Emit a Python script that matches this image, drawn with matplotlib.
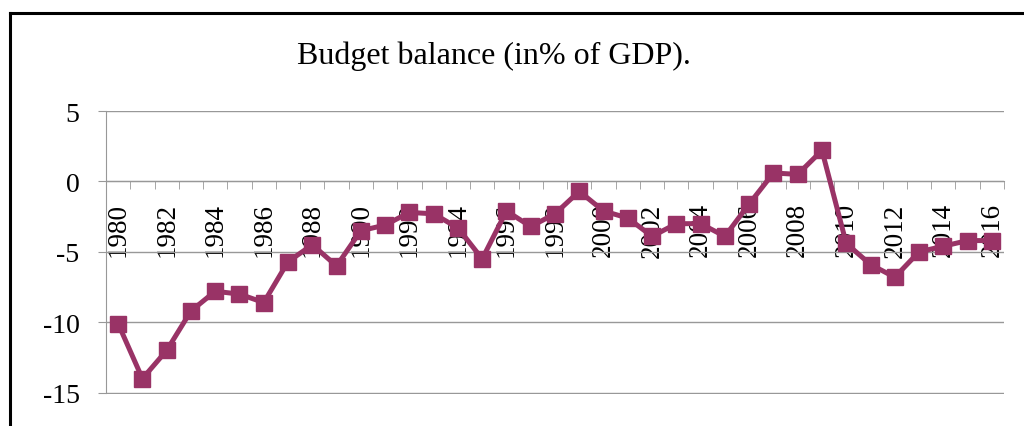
import numpy as np
import matplotlib.pyplot as plt
from matplotlib.lines import Line2D

# budget balance in % of GDP
years = list(range(1980, 2017))
balance = [-10.1, -14.0, -12.0, -9.2, -7.8, -8.0, -8.6, -5.7, -4.5, -6.0,
           -3.5, -3.1, -2.2, -2.3, -3.3, -5.5, -2.1, -3.2, -2.3, -0.7,
           -2.1, -2.6, -3.9, -3.0, -3.0, -3.9, -1.6, 0.6, 0.5, 2.2,
           -4.4, -5.9, -6.8, -5.0, -4.6, -4.2, -4.2]
ytick_vals = [-15, -10, -5, 0, 5]
ytick_labels = ["-15", "-10", "-5", "0", "5"]
title = "Budget balance (in% of GDP)."

plt.rcParams['font.family'] = ['Liberation Serif', 'DejaVu Serif']

W, H = 1024, 427
fig = plt.figure(figsize=(W / 100, H / 100), dpi=100)
# a little room under -15 so that gridline is not clipped
ax = fig.add_axes([106 / W, 1 - 395.1 / H, 898 / W, (395.1 - 112) / H])

grey = "#989898"
x = np.arange(len(years))
ax.plot(x, balance, color="#993366", lw=3.6, marker="s", ms=11,
        zorder=5, clip_on=False)

ax.set_xlim(-0.5, len(years) - 0.5)
ax.set_ylim(-15.1, 5)
ax.set_yticks(ytick_vals)
ax.set_yticklabels(ytick_labels)
ax.yaxis.grid(True, color=grey, lw=1)
ax.set_axisbelow(True)

for s in ["top", "right"]:
    ax.spines[s].set_visible(False)
ax.spines["left"].set_color(grey)
ax.spines["left"].set_bounds(-15, 5)
ax.spines["bottom"].set_color(grey)
ax.spines["bottom"].set_position(("data", 0))

ax.set_xticks(x[::2])
ax.set_xticklabels([str(y) for y in years[::2]], rotation=90)
ax.set_xticks(np.arange(-0.5, len(years), 1), minor=True)
ax.tick_params(axis="x", which="major", length=0, pad=15, labelsize=19.5)
ax.tick_params(axis="x", which="minor", length=5.5, color=grey, direction="out")
ax.tick_params(axis="y", length=6, color=grey, pad=13, labelsize=20)

fig.text(494 / W, 1 - 64 / H, title, ha="center", va="baseline", fontsize=23)

# outer chart border (only left and top visible in the crop)
fig.add_artist(Line2D([9.5 / W, 9.5 / W], [0, 1 - 14 / H], transform=fig.transFigure,
                      color="black", lw=2.2))
fig.add_artist(Line2D([9.5 / W, 1], [1 - 14 / H, 1 - 14 / H], transform=fig.transFigure,
                      color="black", lw=2.2))

fig.savefig("out.png", dpi=100)
